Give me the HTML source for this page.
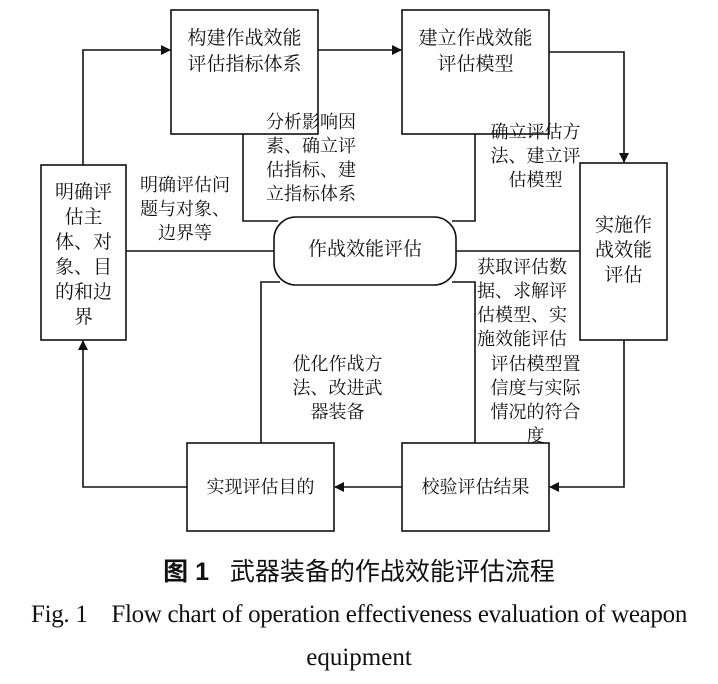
<!DOCTYPE html>
<html><head><meta charset="utf-8"><style>
body{margin:0;background:#fff;width:718px;height:684px;position:relative;overflow:hidden;font-family:"Liberation Serif","Noto Serif CJK SC",serif;color:#111}
.t{position:absolute;font-size:18px;line-height:24px;font-family:"Liberation Serif","Noto Serif CJK SC",serif}
.c{text-align:center}
</style></head><body>
<svg width="718" height="684" style="position:absolute;left:0;top:0" stroke="#111" stroke-width="1.6" fill="none">
<defs><marker id="a" markerWidth="10" markerHeight="10" refX="9" refY="5" orient="auto" markerUnits="userSpaceOnUse"><path d="M0,0 L10,5 L0,10z" fill="#111" stroke="none"/></marker></defs>
<rect x="171" y="10" width="147" height="124"/>
<rect x="402" y="10" width="147" height="124"/>
<rect x="41" y="165" width="85" height="175"/>
<rect x="580" y="163" width="87" height="177"/>
<rect x="274" y="217" width="182" height="68" rx="22"/>
<rect x="187" y="443" width="147" height="88"/>
<rect x="402" y="443" width="147" height="88"/>
<path d="M83 165 V50 H170" marker-end="url(#a)"/>
<path d="M318 50 H401" marker-end="url(#a)"/>
<path d="M549 52 H624 V162" marker-end="url(#a)"/>
<path d="M624 340 V487 H550" marker-end="url(#a)"/>
<path d="M402 487 H335" marker-end="url(#a)"/>
<path d="M187 487 H83 V341" marker-end="url(#a)"/>
<path d="M243 134 V221 H278"/>
<path d="M475 134 V221 H452"/>
<path d="M126 251 H274"/>
<path d="M456 251 H580"/>
<path d="M261 443 V282 H280"/>
<path d="M475 443 V282 H452"/>
</svg>
<div class="t c" style="left:171px;top:26px;width:147px;font-size:19px;line-height:26px">构建作战效能<br>评估指标体系</div>
<div class="t c" style="left:402px;top:26px;width:147px;font-size:19px;line-height:26px">建立作战效能<br>评估模型</div>
<div class="t c" style="left:41px;top:180px;width:85px;font-size:19px;line-height:25px">明确评<br>估主<br>体、对<br>象、目<br>的和边<br>界</div>
<div class="t c" style="left:580px;top:213px;width:87px;font-size:19px;line-height:25px">实施作<br>战效能<br>评估</div>
<div class="t c" style="left:274px;top:238px;width:182px;font-size:19px">作战效能评估</div>
<div class="t c" style="left:187px;top:475px;width:147px">实现评估目的</div>
<div class="t c" style="left:402px;top:475px;width:147px">校验评估结果</div>
<div class="t" style="left:266px;top:110px">分析影响因<br>素、确立评<br>估指标、建<br>立指标体系</div>
<div class="t c" style="left:483px;top:120px;width:105px">确立评估方<br>法、建立评<br>估模型</div>
<div class="t c" style="left:130px;top:173px;width:110px">明确评估问<br>题与对象、<br>边界等</div>
<div class="t" style="left:477px;top:255px">获取评估数<br>据、求解评<br>估模型、实<br>施效能评估</div>
<div class="t c" style="left:285px;top:352px;width:105px">优化作战方<br>法、改进武<br>器装备</div>
<div class="t c" style="left:483px;top:352px;width:105px">评估模型置<br>信度与实际<br>情况的符合<br>度</div>
<div style="position:absolute;left:0;width:718px;top:552px;text-align:center;font-size:25px;font-family:'Liberation Sans','Noto Sans CJK SC',sans-serif"><b>图 1</b>&nbsp;&nbsp;&nbsp;武器装备的作战效能评估流程</div>
<div style="position:absolute;left:0;width:718px;top:601px;text-align:center;font-size:25px;letter-spacing:-0.3px;white-space:nowrap">Fig. 1&nbsp;&nbsp;&nbsp;&nbsp;Flow chart of operation effectiveness evaluation of weapon</div>
<div style="position:absolute;left:0;width:718px;top:644px;text-align:center;font-size:25px">equipment</div>
</body></html>
